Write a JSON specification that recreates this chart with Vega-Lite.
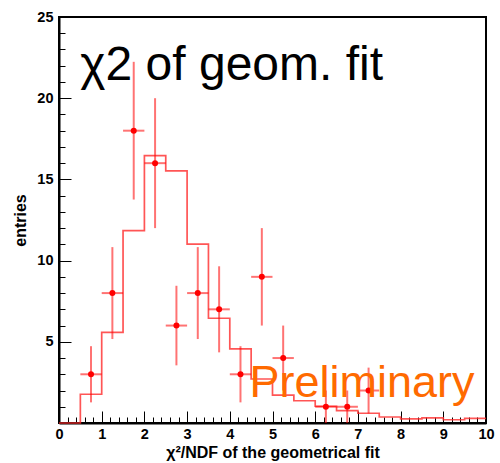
{
  "$schema": "https://vega.github.io/schema/vega-lite/v6.json",
  "width": 427,
  "height": 406,
  "autosize": {"type": "none"},
  "padding": {"left": 59, "top": 17, "right": 14, "bottom": 40},
  "background": "white",
  "config": {
    "view": {"stroke": "black", "strokeWidth": 2},
    "axis": {
      "domainColor": "black",
      "domainWidth": 2,
      "tickColor": "black",
      "tickWidth": 1,
      "tickSize": 0,
      "grid": false,
      "labelFont": "Liberation Sans",
      "labelFontWeight": "bold",
      "labelFontSize": 14.5,
      "labelColor": "black",
      "labelOverlap": false,
      "labelFlush": false,
      "labelBound": false,
      "titleFont": "Liberation Sans",
      "titleFontWeight": "bold",
      "titleColor": "black"
    }
  },
  "datasets": {
    "hist": [
      {"x": 0, "y": 0}, {"x": 0.5, "y": 1.77}, {"x": 1, "y": 5.58}, {"x": 1.5, "y": 11.84},
      {"x": 2, "y": 16.46}, {"x": 2.5, "y": 15.52}, {"x": 3, "y": 11.02}, {"x": 3.5, "y": 6.45},
      {"x": 4, "y": 4.56}, {"x": 4.5, "y": 2.71}, {"x": 5, "y": 1.72}, {"x": 5.5, "y": 1.37},
      {"x": 6, "y": 1.03}, {"x": 6.5, "y": 0.76}, {"x": 7, "y": 0.6}, {"x": 7.5, "y": 0.37},
      {"x": 8, "y": 0.26}, {"x": 8.5, "y": 0.31}, {"x": 9, "y": 0.2}, {"x": 9.5, "y": 0.29},
      {"x": 10, "y": 0.29}
    ],
    "points": [
      {"x": 0.75, "x0": 0.5, "x1": 1.0, "y": 3, "lo": 1.27, "hi": 4.73},
      {"x": 1.25, "x0": 1.0, "x1": 1.5, "y": 8, "lo": 5.17, "hi": 10.83},
      {"x": 1.75, "x0": 1.5, "x1": 2.0, "y": 18, "lo": 13.76, "hi": 22.24},
      {"x": 2.25, "x0": 2.0, "x1": 2.5, "y": 16, "lo": 12, "hi": 20},
      {"x": 2.75, "x0": 2.5, "x1": 3.0, "y": 6, "lo": 3.55, "hi": 8.45},
      {"x": 3.25, "x0": 3.0, "x1": 3.5, "y": 8, "lo": 5.17, "hi": 10.83},
      {"x": 3.75, "x0": 3.5, "x1": 4.0, "y": 7, "lo": 4.35, "hi": 9.65},
      {"x": 4.25, "x0": 4.0, "x1": 4.5, "y": 3, "lo": 1.27, "hi": 4.73},
      {"x": 4.75, "x0": 4.5, "x1": 5.0, "y": 9, "lo": 6, "hi": 12},
      {"x": 5.25, "x0": 5.0, "x1": 5.5, "y": 4, "lo": 2, "hi": 6},
      {"x": 6.25, "x0": 6.0, "x1": 6.5, "y": 1, "lo": 0, "hi": 2},
      {"x": 6.75, "x0": 6.5, "x1": 7.0, "y": 1, "lo": 0, "hi": 2},
      {"x": 7.25, "x0": 7.0, "x1": 7.5, "y": 2, "lo": 0.59, "hi": 3.41}
    ],
    "labels": [
      {"x": 0.5, "y": 21.12, "label": "χ2 of geom. fit", "kind": "title"},
      {"x": 4.46, "y": 1.63, "label": "Preliminary", "kind": "prelim"}
    ]
  },
  "layer": [
    {
      "data": {"name": "hist"},
      "mark": {"type": "line", "interpolate": "step-after", "stroke": "#ff2a2a", "strokeWidth": 1.7, "opacity": 0.8},
      "encoding": {
        "x": {
          "field": "x", "type": "quantitative",
          "scale": {"domain": [0, 10], "nice": false, "zero": false},
          "axis": {
            "title": "χ²/NDF of the geometrical fit",
            "titleFontSize": 16,
            "titleX": 213.5,
            "titleY": 34,
            "titleBaseline": "alphabetic",
            "titleAlign": "center",
            "tickSize": 0,
            "tickCount": 200,
            "labelOverlap": false,
            "labelFlush": false,
            "labelBound": false,
            "labelPadding": 4,
            "labelBaseline": "top",
            "values": [0, 0.2, 0.4, 0.6, 0.8, 1, 1.2, 1.4, 1.6, 1.8, 2, 2.2, 2.4, 2.6, 2.8, 3, 3.2, 3.4, 3.6, 3.8, 4, 4.2, 4.4, 4.6, 4.8, 5, 5.2, 5.4, 5.6, 5.8, 6, 6.2, 6.4, 6.6, 6.8, 7, 7.2, 7.4, 7.6, 7.8, 8, 8.2, 8.4, 8.6, 8.8, 9, 9.2, 9.4, 9.6, 9.8, 10],
            "labelExpr": "datum.value % 1 === 0 ? format(datum.value, 'd') : ''",
            "encoding": {
              "ticks": {
                "y2": {"condition": {"test": "datum.value % 1 === 0", "value": -12}, "value": -6}
              }
            }
          }
        },
        "y": {
          "field": "y", "type": "quantitative",
          "scale": {"domain": [0, 25], "nice": false},
          "axis": {
            "title": "entries",
            "titleFontSize": 16,
            "titleX": -34,
            "titleBaseline": "alphabetic",
            "tickSize": 0,
            "tickCount": 200,
            "labelOverlap": false,
            "labelFlush": false,
            "labelBound": false,
            "labelPadding": 6,
            "values": [0, 1, 2, 3, 4, 5, 6, 7, 8, 9, 10, 11, 12, 13, 14, 15, 16, 17, 18, 19, 20, 21, 22, 23, 24, 25],
            "labelExpr": "datum.value % 5 === 0 && datum.value > 0 ? format(datum.value, 'd') : ''",
            "encoding": {
              "ticks": {
                "x2": {"condition": {"test": "datum.value % 5 === 0", "value": 12}, "value": 6}
              }
            }
          }
        }
      }
    },
    {
      "data": {"name": "points"},
      "mark": {"type": "rule", "stroke": "#ff0000", "strokeWidth": 2, "opacity": 0.55},
      "encoding": {
        "x": {"field": "x", "type": "quantitative"},
        "y": {"field": "lo", "type": "quantitative"},
        "y2": {"field": "hi"}
      }
    },
    {
      "data": {"name": "points"},
      "mark": {"type": "rule", "stroke": "#ff0000", "strokeWidth": 2, "opacity": 0.55},
      "encoding": {
        "x": {"field": "x0", "type": "quantitative"},
        "x2": {"field": "x1"},
        "y": {"field": "y", "type": "quantitative"}
      }
    },
    {
      "data": {"name": "points"},
      "mark": {"type": "circle", "color": "#ff0000", "opacity": 1, "size": 36},
      "encoding": {
        "x": {"field": "x", "type": "quantitative"},
        "y": {"field": "y", "type": "quantitative"}
      }
    },
    {
      "data": {"name": "labels"},
      "transform": [{"filter": "datum.kind === 'title'"}],
      "mark": {"type": "text", "font": "Liberation Sans", "fontSize": 48, "align": "left", "baseline": "alphabetic", "color": "black"},
      "encoding": {
        "x": {"field": "x", "type": "quantitative"},
        "y": {"field": "y", "type": "quantitative"},
        "text": {"field": "label"}
      }
    },
    {
      "data": {"name": "labels"},
      "transform": [{"filter": "datum.kind === 'prelim'"}],
      "mark": {"type": "text", "font": "Liberation Sans", "fontSize": 45, "align": "left", "baseline": "alphabetic", "color": "#ff6a00"},
      "encoding": {
        "x": {"field": "x", "type": "quantitative"},
        "y": {"field": "y", "type": "quantitative"},
        "text": {"field": "label"}
      }
    }
  ]
}
